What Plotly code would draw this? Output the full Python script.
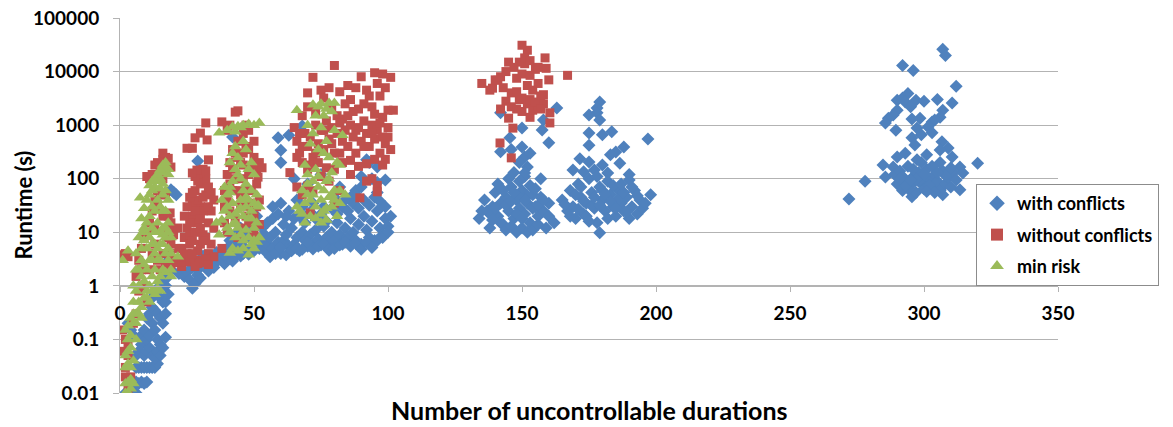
import plotly.graph_objects as go

# ---------------- data: (uncontrollable durations, runtime s) ----------------
# with conflicts
conflicts_small = [
    (2, 0.01), (3, 0.015), (4, 0.012), (5, 0.015), (6, 0.016), (7, 0.015), (8, 0.016), (9, 0.015), (10, 0.016), (6, 0.01),
    (3, 0.2), (4, 0.15), (5, 0.12), (6, 0.03), (7, 0.03), (8, 0.03), (9, 0.03), (10, 0.03), (11, 0.03), (12, 0.03),
    (13, 0.03), (14, 0.035), (6, 0.05), (7, 0.06), (8, 0.08), (9, 0.05), (10, 0.06), (11, 0.07), (12, 0.05), (13, 0.045),
    (14, 0.06), (15, 0.05), (8, 0.12), (9, 0.15), (10, 0.1), (11, 0.12), (12, 0.2), (13, 0.15), (14, 0.1), (15, 0.08),
    (16, 0.07), (17, 0.11), (10, 0.25), (11, 0.3), (12, 0.4), (13, 0.35), (14, 0.3), (15, 0.25), (16, 0.2), (17, 0.3),
    (12, 0.6), (13, 0.7), (14, 0.8), (15, 0.6), (16, 0.5), (17, 0.5), (18, 0.7), (15, 1.0), (16, 1.2), (17, 1.0),
    (18, 1.5), (19, 2), (18, 3), (20, 56), (19, 62), (21, 50), (22, 1.7), (23, 2.0), (24, 1.5),
]
conflicts_mid = [
    (25, 1.8), (26, 1.3), (27, 0.9), (28, 1.1), (29, 1.6), (30, 1.4), (27, 2.2), (28, 2.6), (29, 2.0), (30, 2.5),
    (31, 2.8), (32, 2.2), (33, 3.0), (34, 2.5), (35, 3.2), (36, 2.8), (37, 3.5), (38, 3.0), (39, 2.6), (40, 3.3),
    (41, 3.8), (42, 2.9), (43, 3.5), (44, 4.2), (45, 3.6), (46, 4.0), (47, 4.8), (48, 3.9), (49, 5.2), (50, 4.5),
    (36, 4.2), (38, 4.5), (40, 5), (42, 5.5), (44, 6), (46, 7), (48, 8), (50, 9), (47, 10), (45, 12),
    (49, 14), (51, 20), (50, 30), (52, 6), (41, 7), (43, 9), (39, 3.8), (35, 2.2), (33, 1.9), (31, 3.6),
    (29, 214), (42, 600),
]
conflicts_high = [
    (52, 5), (53, 7), (54, 4.5), (55, 6), (56, 8), (57, 5), (58, 10), (59, 6.5), (60, 4), (61, 7),
    (62, 9), (63, 5.5), (64, 12), (65, 6), (66, 8), (67, 4.5), (68, 10), (69, 7), (70, 5.5), (71, 9),
    (72, 6), (73, 11), (74, 7.5), (75, 5.8), (76, 13), (77, 8), (78, 6.5), (79, 10), (80, 7), (81, 15),
    (82, 9), (83, 6), (84, 12), (85, 8), (86, 18), (87, 10), (88, 7), (89, 14), (90, 6), (91, 20),
    (92, 11), (93, 8), (94, 16), (95, 7), (96, 25), (97, 12), (98, 9), (99, 18), (100, 13), (101, 20),
    (53, 12), (55, 15), (57, 18), (59, 22), (61, 14), (63, 25), (65, 18), (67, 20), (69, 15), (71, 24),
    (73, 18), (75, 22), (77, 16), (79, 28), (81, 22), (83, 30), (85, 25), (87, 35), (89, 28), (91, 40),
    (93, 32), (95, 45), (97, 38), (99, 30), (99, 95), (92, 225), (93, 200), (96, 165), (94, 100), (88, 60),
    (86, 45), (90, 70), (96, 55), (54, 9), (56, 3.5), (58, 4), (60, 5.2), (62, 3.8), (64, 4.5), (66, 5),
    (68, 4.8), (70, 6.5), (72, 4.9), (74, 5.5), (76, 6), (78, 4.6), (80, 5), (82, 5.8), (84, 6.5), (86, 5.5),
    (88, 6.2), (90, 4.8), (92, 6.5), (94, 5.2), (96, 7), (98, 8), (100, 10), (57, 30), (60, 35), (62, 20),
    (66, 40), (68, 30), (72, 35), (76, 30), (80, 45), (84, 40), (88, 50), (59, 580), (63, 650), (60, 340),
    (60, 200), (68, 960), (65, 100), (70, 80), (75, 120), (82, 70), (90, 110), (96, 85),
]
conflicts_150 = [
    (134, 18), (136, 40), (137, 25), (138, 12), (139, 30), (140, 55), (141, 20), (142, 35), (143, 14), (144, 45),
    (145, 25), (146, 70), (147, 18), (148, 40), (149, 28), (150, 60), (151, 22), (152, 35), (153, 15), (154, 50),
    (155, 30), (156, 20), (157, 45), (158, 25), (159, 12), (160, 35), (141, 80), (143, 60), (145, 100), (147, 130),
    (149, 90), (151, 110), (153, 75), (155, 65), (157, 100), (144, 11), (146, 13), (148, 10), (150, 12), (152, 10),
    (154, 11), (156, 14), (142, 15), (138, 22), (140, 28), (144, 32), (146, 38), (148, 22), (150, 18), (152, 48),
    (154, 28), (156, 32), (158, 40), (160, 20), (162, 15), (149, 45), (151, 40), (147, 55), (139, 17), (135, 25),
    (142, 1700), (163, 2100), (158, 1250), (157.5, 810), (160, 470), (150, 880), (145.5, 580), (142, 320), (150, 390),
    (151, 255), (152, 165), (151, 128), (153, 300), (149, 200), (146, 350),
]
conflicts_180 = [
    (179, 2700), (178, 2100), (178, 1700), (175, 1550), (179, 1250), (175, 710), (180, 660), (183.5, 750), (175, 420),
    (197, 550), (188, 390), (185, 315), (183, 280), (171.6, 235), (175, 205), (186.5, 195), (180, 180), (169, 145),
    (173, 135), (177, 145), (182, 128), (190, 95), (198, 50), (179, 9.8),
    (165, 40), (167, 25), (168, 60), (169, 30), (170, 18), (171, 80), (172, 45), (173, 22), (174, 35), (175, 100),
    (176, 55), (177, 28), (178, 15), (179, 70), (180, 40), (181, 25), (182, 90), (183, 50), (184, 30), (185, 20),
    (186, 60), (187, 35), (188, 25), (189, 45), (190, 18), (191, 30), (192, 60), (193, 22), (194, 40), (195, 28),
    (196, 35), (170, 50), (172, 70), (174, 20), (176, 32), (178, 110), (180, 60), (182, 18), (184, 75), (186, 42),
    (188, 55), (190, 120), (175, 16), (177, 45), (179, 32), (181, 52), (183, 38), (185, 28), (187, 80), (189, 24),
    (173, 38), (171, 27), (166, 33), (168, 20), (191, 70), (193, 48),
]
conflicts_300 = [
    (272, 42), (278, 90), (284.7, 180), (320, 195), (307, 26000), (308, 20000), (292, 13000), (296, 10500), (312, 5300),
    (290, 2900), (292, 3200), (294, 3900), (293, 2700), (295, 2200), (297, 2900), (300, 2800), (305, 3000), (307, 1900),
    (310.5, 2600), (306, 1400), (290, 1900), (288.5, 1550), (286.7, 1350), (285.6, 1100), (289.5, 800), (295.5, 1300),
    (298.5, 1350), (303, 1150), (301.5, 920), (304, 1250), (297.4, 880), (299, 660), (295.5, 580), (296.6, 425),
    (303, 720), (306.7, 490), (309, 375), (306, 345), (310.5, 255), (290, 255), (293, 300), (301, 280), (297.4, 225),
    (288.5, 165), (285.6, 108), (313.4, 165), (314.5, 128), (313.4, 62), (307, 50), (295.5, 46),
    (289, 120), (290, 80), (291, 140), (292, 60), (293, 95), (294, 170), (295, 75), (296, 110), (297, 55), (298, 130),
    (299, 85), (300, 65), (301, 150), (302, 100), (303, 70), (304, 120), (305, 90), (306, 60), (307, 140), (308, 80),
    (309, 105), (310, 70), (311, 130), (312, 95), (292, 110), (294, 65), (296, 150), (298, 90), (300, 120), (302, 75),
    (304, 55), (306, 200), (308, 115), (310, 160), (297, 100), (299, 200), (301, 58), (303, 170), (305, 130), (293, 75),
    (291, 100), (295, 95),
]

# without conflicts
noconf_small = [
    (1, 3.8), (2, 4), (3, 3.5), (1, 0.15), (2, 0.1), (3, 0.05), (2, 0.02), (3, 0.012), (4, 0.02), (2, 0.03),
    (1, 0.06), (3, 0.08), (5, 0.2), (6, 0.3), (7, 0.8), (8, 2), (6, 1.5), (7, 3), (8, 5), (9, 8),
    (10, 10), (9, 1), (10, 0.5), (11, 2), (12, 4), (11, 15), (12, 25), (13, 12), (14, 30), (13, 6),
    (15, 50), (14, 3), (16, 20), (17, 10), (16, 4), (15, 2), (17, 2.5), (18, 20), (19, 15), (18, 8),
    (19, 2.5), (16, 100), (15, 150), (14, 200), (17, 250), (18, 240), (16, 230), (13, 180), (12, 120), (11, 100),
    (10, 110), (13, 40), (14, 60), (17, 50), (18.7, 23), (20, 11), (20.5, 2.7), (19, 6), (20, 9), (19, 4),
    (16, 300), (19, 165), (21.6, 12), (22, 5), (23, 2.3),
]
noconf_30 = [
    (23, 5), (24, 8), (25, 12), (26, 6), (27, 20), (28, 3), (29, 15), (30, 30), (31, 9), (32, 50),
    (33, 4), (34, 25), (35, 12), (23, 2.8), (24, 3.5), (25, 4), (26, 9), (27, 7), (28, 10), (29, 4.5),
    (30, 6), (31, 3), (32, 8), (33, 15), (34, 6), (35, 3.5), (26, 15), (27, 35), (28, 60), (29, 40),
    (30, 80), (31, 25), (32, 100), (33, 70), (28, 25), (29, 90), (30, 18), (31, 45), (33, 30), (34, 55),
    (35, 40), (30, 130), (31, 150), (29, 120), (28, 110), (32, 140), (25, 30), (24, 20), (26, 45), (27, 55),
    (30, 12), (31, 7), (29, 2.6), (30, 2.7), (26, 2.8), (27, 4), (28, 2.3), (32, 3.2), (33, 2.5),
    (32, 1100), (38, 1150), (30, 710), (32.5, 530), (28, 580), (27, 370), (33, 225), (28.7, 145), (25, 370), (27, 128),
]
noconf_45 = [
    (38, 5), (39, 15), (40, 40), (41, 80), (42, 150), (43, 300), (44, 500), (45, 200), (46, 100), (47, 60),
    (48, 30), (49, 150), (50, 250), (51, 80), (52, 40), (39, 60), (40, 120), (41, 200), (42, 350), (43, 100),
    (44, 60), (45, 30), (46, 300), (47, 400), (48, 120), (49, 60), (50, 20), (43, 1750), (44, 1850), (41, 1000),
    (40, 800), (46, 700), (50, 500), (51, 150), (52, 200), (53, 160), (47, 1000), (48, 800), (39, 30), (40, 10),
    (41, 25), (43, 18), (45, 50), (47, 20), (49, 35), (51, 30), (52, 14), (44, 8), (46, 12), (48, 15),
    (50, 9), (42, 60), (44, 250), (46, 180), (48, 350), (51.5, 107),
]
noconf_85 = [
    (80, 13000), (72, 7800), (101, 7800), (95, 9500), (90, 8000), (98, 9000), (85, 5500), (75, 4500), (70, 4000), (78, 5000),
    (82, 4200), (88, 5000), (92, 4500), (96, 6000), (99, 5000), (86, 3000), (84, 2500), (93, 3500), (97, 3500), (89, 2000),
    (91, 2500), (94, 2200), (100, 1900), (102, 1900), (76, 3200), (68, 1500), (70, 2200), (73, 1800), (79, 2000), (81, 1500),
    (83, 1300), (87, 1800), (95, 1600), (98, 1400), (65, 900), (66, 500), (67, 300), (68, 200), (69, 700), (70, 400),
    (71, 600), (72, 250), (73, 1000), (74, 450), (75, 800), (76, 350), (77, 1200), (78, 550), (79, 900), (80, 300),
    (81, 700), (82, 1100), (83, 500), (84, 800), (85, 400), (86, 1000), (87, 600), (88, 300), (89, 900), (90, 500),
    (91, 1200), (92, 700), (93, 400), (94, 1000), (95, 550), (96, 800), (97, 300), (98, 600), (99, 450), (100, 900),
    (101, 350), (66, 250), (67, 700), (68, 400), (71, 180), (74, 200), (77, 160), (80, 150), (83, 200), (86, 220),
    (89, 170), (92, 190), (95, 230), (98, 180), (99, 230), (100, 600), (97, 1100), (94, 700), (91, 400), (88, 800),
    (85, 1500), (82, 300), (79, 450), (76, 800), (73, 300), (70, 150), (63.4, 130), (66, 70), (70, 73), (71, 23),
    (89.5, 44), (96, 75), (96, 57), (92, 90), (94, 100), (86, 120), (75, 110), (78, 90), (72, 60), (68, 50),
    (80, 35), (82, 60),
]
noconf_150 = [
    (150, 31000), (152, 25000), (135, 6000), (139, 4900), (141, 6900), (145, 15000), (158.6, 18000), (159, 11500), (167, 8500),
    (158, 3700), (160.4, 1700), (160.4, 1100), (145, 1350), (146.6, 880), (141.8, 465), (146, 245), (153, 1400),
    (138, 4500), (140, 7000), (142, 8000), (143, 5000), (144, 10000), (146, 4000), (147, 12000), (148, 7500), (149, 3000),
    (150, 9000), (151, 14000), (152, 5500), (153, 8500), (154, 4500), (155, 11000), (156, 6000), (157, 3500), (158, 2500),
    (144, 2800), (146, 2200), (148, 2000), (150, 1800), (152, 2500), (154, 1900), (156, 2300), (150, 3200), (148, 4200),
    (153, 3000), (155, 2700), (157, 2000), (149, 15000), (151, 18000), (153, 16000), (156, 12000), (142, 2000), (160, 7000),
]

# min risk
minrisk_small = [
    (2, 0.01), (3, 0.01), (4, 0.012), (2, 0.015), (3, 0.016), (4, 0.018), (5, 0.015), (2, 0.03), (3, 0.035), (4, 0.03),
    (5, 0.04), (2, 0.05), (3, 0.06), (4, 0.07), (3, 0.1), (4, 0.12), (2, 0.15), (3, 0.18), (5, 0.2), (4, 0.25),
    (5, 0.3), (6, 0.1), (6, 0.2), (1, 3), (3, 4.5), (6, 0.3), (7, 0.5), (8, 0.4), (9, 0.6), (6, 0.8),
    (7, 1), (8, 1.5), (9, 1.2), (10, 0.8), (11, 1), (7, 2), (8, 3), (9, 2.5), (10, 2), (11, 3),
    (12, 1.5), (13, 2), (14, 1.2), (15, 1.5), (16, 2), (17, 1.8), (8, 5), (9, 7), (10, 5), (11, 8),
    (12, 6), (13, 4), (14, 5), (15, 3), (16, 6), (17, 4), (18, 5), (9, 12), (10, 15), (11, 20),
    (12, 12), (13, 25), (14, 15), (15, 10), (16, 12), (17, 8), (18, 3), (8, 18), (9, 28), (10, 40),
    (11, 50), (12, 60), (13, 70), (14, 90), (15, 100), (16, 130), (17, 160), (18, 150), (11, 75), (12, 90),
    (13, 95), (14, 120), (15, 145), (16, 180), (17, 200), (18, 120), (14, 40), (15, 30), (16, 50), (17, 25),
    (18, 15), (19, 8), (19, 4), (10, 0.6), (11, 0.5), (12, 0.8), (13, 0.7), (14, 0.9), (15, 0.8), (9, 10),
    (7, 8), (6, 4), (6, 2), (5, 1), (5, 0.5), (7, 0.3), (8, 0.25), (13, 10), (12, 30), (16, 25),
    (17, 60), (18, 40), (15, 65), (16, 80), (12, 3), (13, 6), (14, 3), (15, 6), (16, 9), (17, 12),
    (18, 10), (19, 2), (19, 1.5), (7.5, 44), (9, 11), (21.6, 3.5),
]
minrisk_45 = [
    (37, 720), (40, 800), (42, 930), (44, 950), (46, 1000), (48, 1050), (50, 1000), (52, 1100), (45, 900), (43, 750),
    (41, 200), (42, 300), (43, 400), (44, 250), (45, 180), (46, 500), (47, 350), (48, 150), (49, 200), (50, 120),
    (43, 150), (45, 100), (47, 80), (49, 60), (51, 50), (40, 50), (41, 70), (42, 90), (44, 120), (46, 60),
    (48, 40), (50, 35), (52, 30), (38, 40), (39, 25), (40, 30), (41, 20), (42, 35), (43, 15), (44, 25),
    (45, 40), (46, 20), (47, 30), (48, 18), (49, 25), (50, 12), (51, 15), (52, 8), (40, 12), (41, 10),
    (42, 14), (43, 8), (44, 12), (45, 9), (46, 7), (47, 11), (48, 8), (49, 6), (50, 7), (42, 5),
    (44, 4.5), (46, 5), (48, 3.8), (50, 5), (51, 6.6), (43, 22), (45, 28), (47, 45), (49, 18), (41, 55),
    (39, 70), (38, 17), (36, 15), (37, 9), (41, 4.1), (51.5, 32),
]
minrisk_75 = [
    (66, 1900), (72, 2400), (75, 2500), (78, 2600), (80, 2600), (74, 2200), (77, 2000), (73, 1500), (76, 1500), (79, 1800),
    (70, 1000), (72, 700), (75, 900), (77, 500), (80, 800), (83, 650), (71, 450), (74, 350), (76, 300), (78, 250),
    (81, 200), (69, 180), (73, 150), (79, 130), (82, 180), (70, 120), (67, 25), (68, 60), (69, 35), (70, 80),
    (71, 20), (72, 50), (73, 30), (74, 70), (75, 40), (76, 25), (77, 90), (78, 45), (79, 30), (80, 60),
    (81, 20), (82, 35), (69, 15), (71, 40), (73, 18), (75, 22), (77, 28), (79, 50), (72, 90), (74, 110),
    (76, 60), (78, 100), (80, 40), (70, 50), (68, 22), (66, 30), (82, 60), (84, 50), (75, 15), (77, 17),
]

x_ticks = [0, 50, 100, 150, 200, 250, 300, 350]
y_ticks = [0.01, 0.1, 1, 10, 100, 1000, 10000, 100000]
y_tick_labels = ["0.01", "0.1", "1", "10", "100", "1000", "10000", "100000"]

series = [
    ("with conflicts", conflicts_small + conflicts_mid + conflicts_high + conflicts_150 + conflicts_180 + conflicts_300,
     "#4F81BD", "diamond", 10),
    ("without conflicts", noconf_small + noconf_30 + noconf_45 + noconf_85 + noconf_150,
     "#C0504D", "square", 9),
    ("min risk", minrisk_small + minrisk_45 + minrisk_75,
     "#9BBB59", "triangle-up", 11),
]

FONT = "Lato"
GRID = "#b3b3b3"

fig = go.Figure()
for i, (name, pts, color, symbol, size) in enumerate(series):
    fig.add_trace(go.Scatter(
        x=[p[0] for p in pts], y=[p[1] for p in pts],
        mode="markers", name=name, legendgroup=str(i),
        marker=dict(color=color, symbol=symbol, size=size, line=dict(width=0)),
    ))

fig.update_layout(
    width=1173, height=427,
    margin=dict(l=120, r=115, t=18, b=34, autoexpand=False),
    paper_bgcolor="white", plot_bgcolor="white",
    font=dict(family=FONT, color="black"),
    showlegend=True,
    legend=dict(
        x=0.9126, y=0.5573, xanchor="left", yanchor="top",
        bgcolor="white", bordercolor="#8c8c8c", borderwidth=1,
        font=dict(family=FONT, size=18, color="black", weight="bold"),
        tracegroupgap=5, itemsizing="constant",
    ),
    xaxis=dict(
        range=[0, 350], tickvals=x_ticks, ticktext=[str(v) for v in x_ticks],
        anchor="free", position=2 / 7, automargin=False,
        showgrid=False, zeroline=False,
        showline=True, linecolor=GRID, linewidth=1,
        ticks="outside", ticklen=5, tickcolor=GRID,
        tickfont=dict(family=FONT, size=19, color="black", weight="bold"),
        ticklabelstandoff=5, ticklabeloverflow="allow",
    ),
    yaxis=dict(
        type="log", range=[-2, 5], tickvals=y_ticks, ticktext=y_tick_labels,
        automargin=False,
        showgrid=True, gridcolor=GRID, gridwidth=1,
        showline=True, linecolor=GRID, linewidth=1,
        ticks="outside", ticklen=6, tickcolor=GRID,
        tickfont=dict(family=FONT, size=19, color="black", weight="bold"),
        ticklabelstandoff=10, zeroline=False, ticklabeloverflow="allow",
    ),
    annotations=[
        dict(text="Runtime (s)", xref="paper", yref="paper", x=-0.1034, y=0.5,
             xanchor="center", yanchor="middle", textangle=-90, showarrow=False,
             font=dict(family=FONT, size=22, color="black", weight="bold")),
        dict(text="Number of uncontrollable durations", xref="paper", yref="paper", x=0.5, y=-0.046,
             xanchor="center", yanchor="middle", showarrow=False,
             font=dict(family=FONT, size=25, color="black", weight="bold")),
    ],
)

# remove the default 8 px page margin so the figure fills the window exactly
fig.write_html("out.html", config={"displayModeBar": False},
               post_script="document.body.style.margin='0';")
